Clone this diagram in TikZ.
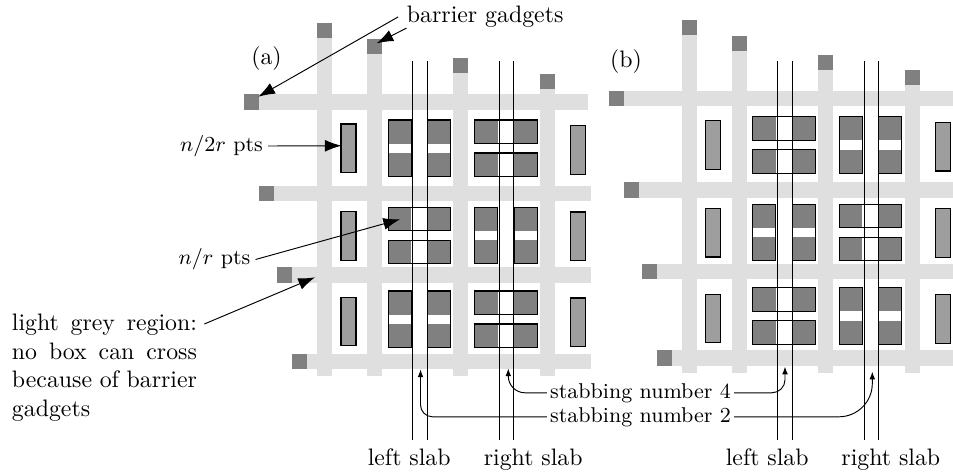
\documentclass[tikz,border=0pt]{standalone}
\usetikzlibrary{arrows.meta}

\definecolor{barfill}{gray}{0.875}
\definecolor{gadgetfill}{gray}{0.5}
\definecolor{ptsfill}{gray}{0.5}
\definecolor{thinfill}{gray}{0.62}

\tikzset{
  bar/.style={fill=barfill},
  gadget/.style={fill=gadgetfill},
  ptsbox/.style={fill=ptsfill},
  outline/.style={draw=black, line width=0.45pt},
  slabline/.style={draw=black, line width=0.4pt},
  bigarrow/.style={-{Latex[length=7pt,width=5pt]}, line width=0.4pt},
  smallarrow/.style={-{Latex[length=3.2pt,width=2.4pt]}, line width=0.4pt},
  plain/.style={inner sep=0pt},
  smalltext/.style={font=\small},
  % two upright boxes side by side, each split by a white band
  uprightpair/.pic={
    \foreach \c in {0,39.5}{
      \fill[ptsbox] (\c,0) rectangle ++(23,23.5);
      \fill[ptsbox] (\c,33) rectangle ++(23,23.5);
      \draw[outline] (\c,0) rectangle ++(23,56.5);
    }
  },
  % two lying boxes one above the other, each split by a white band
  flatpair/.pic={
    \foreach \r in {0,33}{
      \fill[ptsbox] (0,\r) rectangle ++(23,23.5);
      \fill[ptsbox] (39.5,\r) rectangle ++(23,23.5);
      \draw[outline] (0,\r) rectangle ++(62.5,23.5);
    }
  },
  thinbox/.pic={
    \draw[outline, fill=thinfill] (0,0) rectangle ++(15,48.5);
  }
}

% light grey corridors with the barrier gadgets at their ends
% #1: right end of the top corridor, #2: right end of the others
\newcommand\gridbars[2]{%
  \foreach \x/\t in {317/23, 367/39, 453/58, 540/73.5}{
    \fill[bar] (\x,\t+15) rectangle (\x+15,376);
    \fill[gadget] (\x,\t) rectangle ++(15,15);
  }
  \fill[bar] (259,94) rectangle (#1,109.5);
  \fill[gadget] (244,94) rectangle ++(15,15.5);
  \foreach \g/\t in {259/185.5, 277/267, 292/353.5}{
    \fill[bar] (\g+15,\t) rectangle (#2,\t+15.5);
    \fill[gadget] (\g,\t) rectangle ++(15,15.5);
  }
}

% the narrow boxes in the outer columns
\newcommand\thinboxes{%
  \foreach \t in {124,211.7,297.3}{\pic at (341,\t) {thinbox};}
  \foreach \t in {125.7,212,298}{\pic at (570.8,\t) {thinbox};}
}

\begin{document}
\begin{tikzpicture}[x=0.42pt, y=-0.42pt]
\useasboundingbox (0,0) rectangle (953,474);

% ---------------- panel (a) ----------------
\gridbars{588}{591}
\thinboxes
\pic at (388.2,120)   {uprightpair};
\pic at (474.7,120)   {flatpair};
\pic at (388.2,207.3) {flatpair};
\pic at (474.7,207.3) {uprightpair};
\pic at (388.2,291)   {uprightpair};
\pic at (474.7,291)   {flatpair};

% ---------------- panel (b) ----------------
\begin{scope}[shift={(364.7,-3.2)}]
  \gridbars{588.3}{588.3}
  \thinboxes
  \pic at (388.2,120)   {flatpair};
  \pic at (474.7,120)   {uprightpair};
  \pic at (388.2,207.3) {uprightpair};
  \pic at (474.7,207.3) {flatpair};
  \pic at (388.2,291)   {flatpair};
  \pic at (474.7,291)   {uprightpair};
\end{scope}

% ---------------- slabs ----------------
\foreach \x in {412.7, 427.7, 499.3, 513.7, 777.7, 792.3, 864.3, 878.7}{
  \draw[slabline] (\x,61) -- (\x,440);
}

% ---------------- labels ----------------
\node[plain] (plabA) at (266.5,58.5) {(a)};
\node[plain] (plabB) at (626,61.5) {(b)};
\node[plain, anchor=base west] (bgtext) at (406.5,22.7) {barrier gadgets};
\node[smalltext, anchor=east, inner sep=2pt] (n2r) at (268,146) {$n/2r$ pts};
\node[smalltext, anchor=east, inner sep=2pt] (nr) at (255.5,259.5) {$n/r$ pts};
\node[plain, anchor=north west, align=left] (lgtext) at (11.5,313.5)
  {\makebox[77.7pt][s]{light grey region:}\\
   \makebox[77.7pt][s]{no box can cross}\\
   \makebox[77.7pt][s]{because of barrier}\\
   gadgets};
\node[smalltext, anchor=base, inner sep=1.2pt] (sn4) at (640.5,398) {stabbing number 4};
\node[smalltext, anchor=base, inner sep=1.2pt] (sn2) at (640.5,422) {stabbing number 2};
\node[plain, anchor=base] (lsA) at (409.2,465) {left slab};
\node[plain, anchor=base] (rsA) at (533.2,465) {right slab};
\node[plain, anchor=base] (lsB) at (767.2,465) {left slab};
\node[plain, anchor=base] (rsB) at (890.8,465) {right slab};

% ---------------- arrow targets ----------------
\coordinate (gadgetH) at (258.3,96.7);
\coordinate (gadgetV) at (376.7,43.3);
\coordinate (thinTip) at (341.5,145.7);
\coordinate (pairTip) at (400,219.3);
\coordinate (greyTip) at (315,277.3);
\coordinate (greyStart) at ([shift={(2.9pt,-4.4pt)}]lgtext.north east);
\coordinate (tipAL) at (420.5,369.5);
\coordinate (tipAR) at (508.3,368.5);
\coordinate (tipBL) at (785,366.7);
\coordinate (tipBR) at (872.3,371.7);

% ---------------- arrows ----------------
\draw[bigarrow] ([xshift=-3.5pt]bgtext.west) -- (gadgetH);
\draw[bigarrow] (bgtext.south west) -- (gadgetV);
\draw[bigarrow] (n2r.east) -- (thinTip);
\draw[bigarrow] (nr.east) -- (pairTip);
\draw[bigarrow] (greyStart) -- (greyTip);

\draw[smallarrow, rounded corners=5pt]  (sn2.west) -| (tipAL);
\draw[smallarrow, rounded corners=7pt]  (sn4.west) -| (tipAR);
\draw[smallarrow, rounded corners=5.5pt] (sn4.east) -| (tipBL);
\draw[smallarrow, rounded corners=14pt] (sn2.east) -| (tipBR);
\end{tikzpicture}
\end{document}
